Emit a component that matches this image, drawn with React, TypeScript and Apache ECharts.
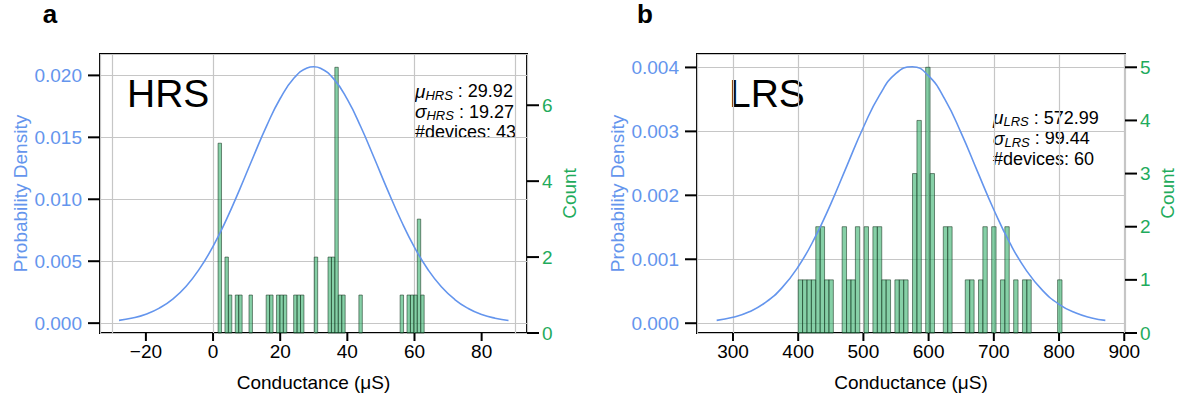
import React, { useEffect, useRef } from "react";
import * as echarts from "echarts";

// ---------- HRS panel data ----------
const hrsXTicks = [-20, 0, 20, 40, 60, 80];
const hrsDensityTicks = [0, 0.005, 0.01, 0.015, 0.02];
const hrsCountTicks = [0, 2, 4, 6];
const hrsXRange = [-33.67, 93.51];
const hrsDensityRange = [-0.000795, 0.021727];
const hrsCountRange = [0, 7.35];
const hrsBinWidth = 1.023;
const hrsBinLeft = [
  1.5, 3.55, 4.57, 6.62, 7.64, 10.71, 15.82, 16.85, 18.89, 19.91, 20.94, 24.01, 25.03, 26.05,
  30.14, 34.24, 35.26, 36.28, 37.31, 38.33, 43.44, 55.72, 57.77, 58.79, 59.81, 60.83, 61.86,
];
const hrsBinCount = [
  5, 2, 1, 1, 1, 1, 1, 1, 1, 1, 1, 1, 1, 1, 2, 2, 2, 7, 1, 1, 1, 1, 1, 1, 1, 3, 1,
];
const hrsCurveX = [
  -28, -24, -20, -16, -12, -8, -4, 0, 4, 8, 12, 16, 20, 24, 28, 30, 32, 36, 40, 44, 48, 52, 56,
  60, 64, 68, 72, 76, 80, 84, 88,
];
const hrsCurveY = [
  0.000226, 0.000413, 0.000723, 0.001211, 0.001943, 0.002986, 0.004398, 0.006202, 0.008379,
  0.010841, 0.013436, 0.015949, 0.018134, 0.019749, 0.020601, 0.020703, 0.020583, 0.019698,
  0.018056, 0.015853, 0.013332, 0.010739, 0.008285, 0.006122, 0.004334, 0.002938, 0.001908,
  0.001187, 0.000707, 0.000403, 0.00022,
];

// ---------- LRS panel data ----------
const lrsXTicks = [300, 400, 500, 600, 700, 800, 900];
const lrsDensityTicks = [0, 0.001, 0.002, 0.003, 0.004];
const lrsCountTicks = [0, 1, 2, 3, 4, 5];
const lrsXRange = [244.84, 901.14];
const lrsDensityRange = [-0.000153, 0.00421];
const lrsCountRange = [0, 5.25];
const lrsBinWidth = 6.743;
const lrsBinLeft = [
  400.0, 406.7, 413.5, 420.2, 427.0, 433.7, 440.5, 447.2, 467.4, 474.2, 480.9, 487.7, 501.1,
  514.6, 521.4, 528.1, 534.9, 548.3, 555.1, 561.8, 575.3, 582.1, 595.5, 602.3, 622.5, 629.3,
  656.2, 663.0, 676.5, 683.2, 696.7, 710.2, 716.9, 730.4, 743.9, 750.6, 797.8,
];
const lrsBinCount = [
  1, 1, 1, 1, 2, 2, 1, 1, 2, 1, 1, 2, 2, 2, 2, 1, 1, 1, 1, 1, 3, 4, 5, 3, 2, 2, 1, 1, 1, 2, 2,
  1, 2, 1, 1, 1, 1,
];
const lrsCurveX = [
  275, 300, 325, 350, 375, 400, 425, 450, 475, 500, 525, 550, 575, 600, 625, 650, 675, 700, 725,
  750, 775, 800, 825, 850, 871,
];
const lrsCurveY = [
  0.000045, 0.0000926, 0.000179, 0.000325, 0.000553, 0.000883, 0.001326, 0.001867, 0.002469,
  0.003064, 0.003571, 0.003906, 0.004011, 0.003867, 0.003499, 0.002972, 0.00237, 0.001775,
  0.001247, 0.000823, 0.00051, 0.000296, 0.000162, 0.0000828, 0.000045,
];

const FONT = '"Liberation Sans", Arial, Helvetica, sans-serif';
const BLUE = "#6495ED";
const GREEN = "#1fab5c";
const GRIDC = "#c6c6c6";

const minus = (v: number) => String(v).replace("-", "\u2212");

function binsData(left: number[], count: number[], w: number) {
  return left.map((l, i) => [l, l + w, count[i]]);
}

function curveData(xs: number[], ys: number[]) {
  return xs.map((x, i) => [x, ys[i]]);
}

const renderBar = (params: any, api: any) => {
  const l = api.value(0);
  const r = api.value(1);
  const c = api.value(2);
  const p1 = api.coord([l, c]);
  const p2 = api.coord([r, 0]);
  return {
    type: "rect",
    shape: { x: p1[0], y: p1[1], width: p2[0] - p1[0], height: p2[1] - p1[1] },
    style: { fill: "rgba(60,179,113,0.62)", stroke: "rgba(20,50,30,0.55)", lineWidth: 1 },
  };
};

// Tick marks drawn through the axes' own scales (value -> pixel via api.coord)
function tickSeries(
  xi: number,
  yi: number,
  values: number[],
  side: "bottom" | "left" | "right",
  edge: number,
  len: number
) {
  const data = values.map((v) => (side === "bottom" ? [v, edge] : [edge, v]));
  return {
    type: "custom",
    xAxisIndex: xi,
    yAxisIndex: yi,
    clip: false,
    silent: true,
    z: 10,
    encode: { x: 0, y: 1 },
    data,
    renderItem: (params: any, api: any) => {
      const p = api.coord([api.value(0), api.value(1)]);
      let shape;
      if (side === "bottom") shape = { x1: p[0], y1: p[1], x2: p[0], y2: p[1] + len };
      else if (side === "left") shape = { x1: p[0] - len, y1: p[1], x2: p[0], y2: p[1] };
      else shape = { x1: p[0], y1: p[1], x2: p[0] + len, y2: p[1] };
      return { type: "line", shape, style: { stroke: "#000", lineWidth: 2 } };
    },
  };
}

function xAxisCfg(grid: number, range: number[], ticks: number[]) {
  return {
    type: "value",
    gridIndex: grid,
    min: range[0],
    max: range[1],
    name: "Conductance (\u03bcS)",
    nameLocation: "middle",
    nameGap: 40,
    nameTextStyle: { fontSize: 19, color: "#000", fontFamily: FONT },
    axisLine: { show: false, onZero: false },
    axisTick: { show: false },
    axisLabel: {
      customValues: ticks,
      fontSize: 19,
      color: "#000",
      fontFamily: FONT,
      margin: 9,
      formatter: minus,
    },
    splitLine: { show: true, lineStyle: { color: GRIDC, width: 1.2 } },
  };
}

function densityAxisCfg(grid: number, range: number[], ticks: number[]) {
  return {
    type: "value",
    gridIndex: grid,
    position: "left",
    min: range[0],
    max: range[1],
    name: "Probability Density",
    nameLocation: "middle",
    nameGap: 70,
    nameTextStyle: { fontSize: 19, color: BLUE, fontFamily: FONT },
    axisLine: { show: false, onZero: false },
    axisTick: { show: false },
    axisLabel: {
      customValues: ticks,
      fontSize: 19,
      color: BLUE,
      fontFamily: FONT,
      margin: 18,
      formatter: (v: number) => v.toFixed(3),
    },
    splitLine: { show: true, lineStyle: { color: GRIDC, width: 1.2 } },
  };
}

function countAxisCfg(grid: number, range: number[], ticks: number[]) {
  return {
    type: "value",
    gridIndex: grid,
    position: "right",
    min: range[0],
    max: range[1],
    name: "Count",
    nameLocation: "middle",
    nameGap: 33,
    nameTextStyle: { fontSize: 19, color: GREEN, fontFamily: FONT },
    axisLine: { show: false, onZero: false },
    axisTick: { show: false },
    axisLabel: {
      customValues: ticks,
      fontSize: 19,
      color: GREEN,
      fontFamily: FONT,
      margin: 15,
    },
    splitLine: { show: false },
  };
}

function statText(x: number, y: number, tag: string, mu: string, sigma: string, n: string) {
  return {
    type: "text",
    x,
    y,
    style: {
      text: `{m|\u03bc}{s|${tag}}{t| : ${mu}}\n{m|\u03c3}{s|${tag}}{t| : ${sigma}}\n{t|#devices: ${n}}`,
      fill: "#000",
      font: `18px ${FONT}`,
      rich: {
        m: { fontSize: 19, fontStyle: "italic", fontFamily: FONT, lineHeight: 20.5, fill: "#000" },
        s: {
          fontSize: 13,
          fontStyle: "italic",
          fontFamily: FONT,
          lineHeight: 12,
          verticalAlign: "bottom",
          fill: "#000",
        },
        t: { fontSize: 18, fontFamily: FONT, lineHeight: 20.5, fill: "#000" },
      },
    },
  };
}

function bigText(x: number, y: number, text: string, size: number, bold: boolean, align: string) {
  return {
    type: "text",
    x,
    y,
    style: {
      text,
      font: `${bold ? "bold " : ""}${size}px ${FONT}`,
      fill: "#000",
      align,
      textAlign: align,
      verticalAlign: "middle",
      textVerticalAlign: "middle",
    },
  };
}

export default function App() {
  const ref = useRef<HTMLDivElement>(null);
  useEffect(() => {
    if (!ref.current) return;
    const chart = echarts.init(ref.current, undefined, { renderer: "svg" });
    chart.setOption({
      animation: false,
      grid: [
        { left: 100, top: 54, width: 427, height: 279, show: true, borderColor: "#000", borderWidth: 2 },
        { left: 697, top: 54, width: 428, height: 279, show: true, borderColor: "#000", borderWidth: 2 },
      ],
      xAxis: [xAxisCfg(0, hrsXRange, hrsXTicks), xAxisCfg(1, lrsXRange, lrsXTicks)],
      yAxis: [
        densityAxisCfg(0, hrsDensityRange, hrsDensityTicks),
        countAxisCfg(0, hrsCountRange, hrsCountTicks),
        densityAxisCfg(1, lrsDensityRange, lrsDensityTicks),
        countAxisCfg(1, lrsCountRange, lrsCountTicks),
      ],
      series: [
        {
          type: "custom",
          xAxisIndex: 0,
          yAxisIndex: 1,
          renderItem: renderBar,
          encode: { x: [0, 1], y: 2 },
          data: binsData(hrsBinLeft, hrsBinCount, hrsBinWidth),
        },
        {
          type: "line",
          xAxisIndex: 0,
          yAxisIndex: 0,
          data: curveData(hrsCurveX, hrsCurveY),
          smooth: true,
          showSymbol: false,
          lineStyle: { color: BLUE, width: 1.6 },
        },
        {
          type: "custom",
          xAxisIndex: 1,
          yAxisIndex: 3,
          renderItem: renderBar,
          encode: { x: [0, 1], y: 2 },
          data: binsData(lrsBinLeft, lrsBinCount, lrsBinWidth),
        },
        {
          type: "line",
          xAxisIndex: 1,
          yAxisIndex: 2,
          data: curveData(lrsCurveX, lrsCurveY),
          smooth: true,
          showSymbol: false,
          lineStyle: { color: BLUE, width: 1.6 },
        },
        tickSeries(0, 1, hrsXTicks, "bottom", hrsCountRange[0], 8),
        tickSeries(0, 0, hrsDensityTicks, "left", hrsXRange[0], 12),
        tickSeries(0, 1, hrsCountTicks, "right", hrsXRange[1], 12),
        tickSeries(1, 3, lrsXTicks, "bottom", lrsCountRange[0], 8),
        tickSeries(1, 2, lrsDensityTicks, "left", lrsXRange[0], 12),
        tickSeries(1, 3, lrsCountTicks, "right", lrsXRange[1], 12),
      ],
      graphic: [
        bigText(50, 14, "a", 26, true, "center"),
        bigText(645, 14, "b", 26, true, "center"),
        bigText(127, 93, "HRS", 39, false, "left"),
        bigText(729, 93, "LRS", 39, false, "left"),
        statText(415, 81, "HRS", "29.92", "19.27", "43"),
        statText(993, 107.5, "LRS", "572.99", "99.44", "60"),
      ],
    });
    return () => chart.dispose();
  }, []);
  return (
    <div
      ref={ref}
      style={{ position: "fixed", left: 0, top: 0, width: 1181, height: 400, background: "#fff" }}
    />
  );
}
